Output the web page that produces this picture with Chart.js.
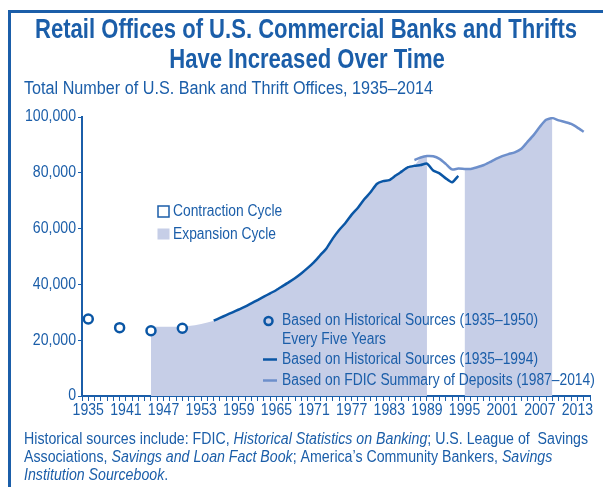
<!DOCTYPE html>
<html>
<head>
<meta charset="utf-8">
<script src="https://cdn.jsdelivr.net/npm/chart.js@4.4.1/dist/chart.umd.min.js"></script>
<style>
  html, body { margin: 0; padding: 0; background: #fff; }
  canvas { display: block; }
</style>
</head>
<body>
<canvas id="chart" width="603" height="487"></canvas>
<script>
// every five years, historical sources 1935-1950
var circleYears = [1935, 1940, 1945, 1950];
var circleValues = [27600, 24500, 23400, 24300];

// historical sources line (visible part 1955-1994)
var histYears = [];
for (var yr = 1955; yr <= 1994; yr++) histYears.push(yr);
var histValues = [27000, 28000, 29000, 30000, 31000, 32000, 33200, 34400, 35600, 36800,
                  38000, 39400, 40800, 42300, 44000, 45900, 48000, 50500, 53000, 56500,
                  59500, 62000, 65000, 67500, 70500, 73000, 76000, 77000, 77400, 79000,
                  80500, 82000, 82500, 82800, 83300, 80800, 79800, 78000, 76600, 78900];

// FDIC summary of deposits 1987-2014
var fdicYears = [];
for (var yr2 = 1987; yr2 <= 2014; yr2++) fdicYears.push(yr2);
var fdicValues = [84600, 85500, 86000, 85900, 85000, 83200, 81200, 81500, 81400, 81400,
                  82000, 82700, 83800, 85000, 86000, 86700, 87300, 88500, 91000, 93500,
                  96500, 99000, 99600, 98800, 98200, 97500, 96200, 94700];

// top edge of the shading before the line starts (1945-1954)
var earlyShadeYears = [1945, 1946, 1947, 1948, 1949, 1950, 1951, 1952, 1953, 1954];
var earlyShadeValues = [24800, 24800, 24800, 24800, 24800, 24900, 25100, 25400, 25800, 26300];

// expansion cycles
var expansions = [[1945, 1989], [1995, 2009]];

var xLabels = [1935, 1941, 1947, 1953, 1959, 1965, 1971, 1977, 1983, 1989, 1995, 2001, 2007, 2013];
var yTicks = [0, 20000, 40000, 60000, 80000, 100000];

var BLUE = "#1b5ea9";
var DARK = "#0a56a5";
var LIGHT = "#6d8fcb";
var SHADE = "#c6cee7";
var FONT = "'Liberation Sans', Arial, sans-serif";

function pts(xs, ys){
    var out = [];
    for (var i = 0; i < xs.length; i++) out.push({x: xs[i], y: ys[i]});
    return out;
}

// value on the top edge of the shading for a given year
function shadeTop(year){
    var i = earlyShadeYears.indexOf(year);
    if (i >= 0) return earlyShadeValues[i];
    if (year >= 1988) {
        i = fdicYears.indexOf(year);
        if (i >= 0) return fdicValues[i];
    }
    i = histYears.indexOf(year);
    if (i >= 0) return histValues[i];
    i = fdicYears.indexOf(year);
    return fdicValues[i];
}

function shadeData(range){
    var out = [];
    for (var y = range[0]; y <= range[1]; y++) out.push({x: y, y: shadeTop(y)});
    return out;
}

var datasets = [];
expansions.forEach(function(r){
    datasets.push({
        data: shadeData(r),
        fill: 'origin',
        backgroundColor: SHADE,
        borderWidth: 0,
        pointRadius: 0,
        order: 10
    });
});
datasets.push({
    data: pts(fdicYears, fdicValues),
    borderColor: LIGHT,
    borderWidth: 2.5,
    pointRadius: 0,
    fill: false,
    tension: 0.2,
    order: 3
});
datasets.push({
    data: pts(histYears, histValues),
    borderColor: DARK,
    borderWidth: 2.5,
    pointRadius: 0,
    fill: false,
    tension: 0.2,
    order: 2
});
datasets.push({
    data: pts(circleYears, circleValues),
    showLine: false,
    pointRadius: 4.5,
    pointBorderWidth: 2.5,
    pointBorderColor: DARK,
    pointBackgroundColor: "#fff",
    order: 1
});

// condensed look: plain font squeezed horizontally
function sqText(ctx, text, x, y, sq){
    ctx.save();
    ctx.translate(x, y);
    ctx.scale(sq, 1);
    ctx.fillText(text, 0, 0);
    ctx.restore();
    return ctx.measureText(text).width * sq;
}

function fitSq(ctx, text, width){
    return width / ctx.measureText(text).width;
}

function lineWidth(ctx, parts, size){
    var w = 0;
    parts.forEach(function(p){
        ctx.font = (p[1] ? "italic " : "") + size + "px " + FONT;
        w += ctx.measureText(p[0]).width;
    });
    return w;
}

function richLine(ctx, parts, x, y, size, sq){
    parts.forEach(function(p){
        ctx.font = (p[1] ? "italic " : "") + size + "px " + FONT;
        x += sqText(ctx, p[0], x, y, sq);
    });
}

var note1 = [["Historical sources include: FDIC, ", false], ["Historical Statistics on Banking", true], ["; U.S. League of  Savings", false]];
var note2 = [["Associations, ", false], ["Savings and Loan Fact Book", true], ["; America\u2019s Community Bankers, ", false], ["Savings", true]];
var note3 = [["Institution Sourcebook", true], [".", false]];

var decorations = {
    id: 'decorations',
    afterDraw: function(chart){
        var ctx = chart.ctx;
        ctx.save();
        // frame
        ctx.strokeStyle = BLUE;
        ctx.lineWidth = 3;
        ctx.beginPath();
        ctx.moveTo(9.5, 487);
        ctx.lineTo(9.5, 11.5);
        ctx.lineTo(603, 11.5);
        ctx.stroke();

        ctx.fillStyle = BLUE;
        ctx.textBaseline = "middle";
        ctx.textAlign = "left";
        ctx.font = "bold 28px " + FONT;
        var t1 = "Retail Offices of U.S. Commercial Banks and Thrifts";
        var t2 = "Have Increased Over Time";
        var tsq = fitSq(ctx, t1, 542);
        sqText(ctx, t1, 35, 30, tsq);
        var w2 = ctx.measureText(t2).width * tsq;
        sqText(ctx, t2, 307 - w2 / 2, 60, tsq);

        ctx.font = "18px " + FONT;
        var sub = "Total Number of U.S. Bank and Thrift Offices, 1935\u20132014";
        sqText(ctx, sub, 24, 89, fitSq(ctx, sub, 409));

        // tick labels
        ctx.font = "16px " + FONT;
        var ksq = fitSq(ctx, "100,000", 51);
        var xs = chart.scales.x, ys = chart.scales.y;
        xLabels.forEach(function(v){
            var w = ctx.measureText(String(v)).width * ksq;
            sqText(ctx, String(v), xs.getPixelForValue(v) - w / 2, 411, ksq);
        });
        yTicks.forEach(function(v){
            var s = v.toLocaleString('en-US');
            var w = ctx.measureText(s).width * ksq;
            sqText(ctx, s, 76 - w, ys.getPixelForValue(v), ksq);
        });

        // cycle legend
        ctx.font = "16px " + FONT;
        var lsq = fitSq(ctx, "Based on Historical Sources (1935\u20131950)", 256);
        ctx.strokeStyle = BLUE;
        ctx.lineWidth = 1.5;
        ctx.strokeRect(158, 206, 11, 11);
        ctx.fillStyle = SHADE;
        ctx.fillRect(157.5, 228.5, 12, 11);
        ctx.fillStyle = BLUE;
        sqText(ctx, "Contraction Cycle", 173, 211.5, lsq);
        sqText(ctx, "Expansion Cycle", 173, 234.5, lsq);

        // series legend
        ctx.beginPath();
        ctx.arc(268.5, 321, 4, 0, Math.PI * 2);
        ctx.strokeStyle = DARK;
        ctx.lineWidth = 2.5;
        ctx.stroke();
        sqText(ctx, "Based on Historical Sources (1935\u20131950)", 282, 321, lsq);
        sqText(ctx, "Every Five Years", 282, 340, lsq);
        ctx.beginPath();
        ctx.moveTo(263, 359.5);
        ctx.lineTo(277, 359.5);
        ctx.stroke();
        sqText(ctx, "Based on Historical Sources (1935\u20131994)", 282, 359.5, lsq);
        ctx.strokeStyle = LIGHT;
        ctx.beginPath();
        ctx.moveTo(263, 380.5);
        ctx.lineTo(277, 380.5);
        ctx.stroke();
        sqText(ctx, "Based on FDIC Summary of Deposits (1987\u20132014)", 282, 380.5, lsq);

        // sources note
        var nsq = 564 / lineWidth(ctx, note1, 16);
        richLine(ctx, note1, 24, 440, 16, nsq);
        richLine(ctx, note2, 24, 458, 16, nsq);
        richLine(ctx, note3, 24, 476, 16, nsq);
        ctx.restore();
    }
};

new Chart(document.getElementById("chart"), {
    type: 'line',
    data: { datasets: datasets },
    plugins: [decorations],
    options: {
        responsive: false,
        animation: false,
        layout: { padding: { top: 117, left: 10, right: 13, bottom: 61 } },
        plugins: { legend: { display: false }, tooltip: { enabled: false } },
        scales: {
            x: {
                type: 'linear',
                min: 1934,
                max: 2015,
                afterFit: function(s){ s.height = 30; },
                border: { color: BLUE, width: 2 },
                grid: { drawOnChartArea: false, tickLength: 5, tickColor: BLUE, lineWidth: 1 },
                ticks: { stepSize: 1, autoSkip: false, maxRotation: 0, display: false }
            },
            y: {
                min: yTicks[0],
                max: yTicks[yTicks.length - 1],
                afterFit: function(s){ s.width = 72; },
                afterBuildTicks: function(s){ s.ticks = yTicks.map(function(v){ return {value: v}; }); },
                border: { color: BLUE, width: 2 },
                grid: { drawOnChartArea: false, tickLength: 4, tickColor: BLUE },
                ticks: { display: false }
            }
        }
    }
});
</script>
</body>
</html>
